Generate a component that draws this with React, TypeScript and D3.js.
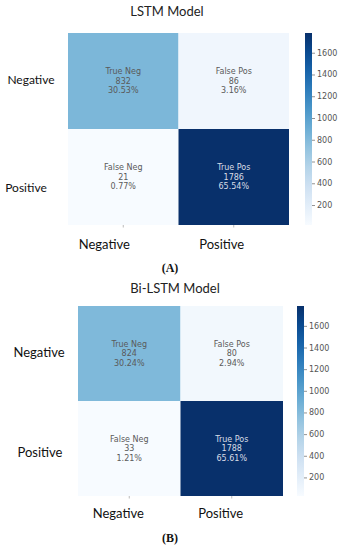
import React from "react";
import * as d3 from "d3";

// confusion matrix data, row-major: [TN, FP, FN, TP]
const classLabels = ["Negative", "Positive"];
const cellNames = ["True Neg", "False Pos", "False Neg", "True Pos"];
const lstmCounts = [832, 86, 21, 1786];
const lstmPercents = ["30.53%", "3.16%", "0.77%", "65.54%"];
const bilstmCounts = [824, 80, 33, 1788];
const bilstmPercents = ["30.24%", "2.94%", "1.21%", "65.61%"];
const colorbarTicks = [200, 400, 600, 800, 1000, 1200, 1400, 1600];

const labelFont = "Lato, 'Open Sans', sans-serif";
const annotFont = "'DejaVu Sans', sans-serif";

type PanelProps = {
  title: string;
  caption: string;
  counts: number[];
  percents: string[];
  titleX: number;
  titleY: number;
  x0: number;
  x1: number;
  y0: number;
  y1: number;
  cbX: number;
  rowLabelX: number[];
  rowLabelDy: number[];
  rowLabelSize: number;
  colLabelDx: number[];
  colLabelY: number;
  captionY: number;
  gradId: string;
};

const Panel = (p: PanelProps) => {
  const lo = d3.min(p.counts) as number;
  const hi = d3.max(p.counts) as number;
  const color = d3.scaleSequential(d3.interpolateBlues).domain([lo, hi]);

  const x = d3.scaleBand().domain(classLabels).range([p.x0, p.x1]);
  const y = d3.scaleBand().domain(classLabels).range([p.y0, p.y1]);
  const cb = d3.scaleLinear().domain([lo, hi]).range([p.y1, p.y0]);
  const cbW = 7;

  const cells = p.counts.map((v, i) => ({
    v,
    name: cellNames[i],
    pct: p.percents[i],
    row: classLabels[Math.floor(i / 2)],
    col: classLabels[i % 2],
  }));

  const stops = d3.range(0, 1.0001, 0.1);

  return (
    <g>
      <defs>
        <linearGradient id={p.gradId} x1="0" y1="1" x2="0" y2="0">
          {stops.map((t) => (
            <stop key={t} offset={`${t * 100}%`} stopColor={d3.interpolateBlues(t)} />
          ))}
        </linearGradient>
      </defs>
      <text x={p.titleX} y={p.titleY} textAnchor="middle" fontFamily={labelFont} fontSize={13} fill="#222">
        {p.title}
      </text>

      {cells.map((c) => {
        const cx = (x(c.col) as number) + x.bandwidth() / 2;
        const cy = (y(c.row) as number) + y.bandwidth() / 2;
        const dark = (c.v - lo) / (hi - lo) > 0.6;
        return (
          <g key={c.name}>
            <rect
              x={x(c.col)}
              y={y(c.row)}
              width={x.bandwidth()}
              height={y.bandwidth()}
              fill={color(c.v)}
            />
            <text
              x={cx}
              y={cy}
              textAnchor="middle"
              fontFamily={annotFont}
              fontSize={8}
              fill={dark ? "#d8dce6" : "#5a5a5a"}
            >
              <tspan x={cx} dy={-7}>{c.name}</tspan>
              <tspan x={cx} dy={9.5}>{c.v}</tspan>
              <tspan x={cx} dy={9.5}>{c.pct}</tspan>
            </text>
          </g>
        );
      })}

      {classLabels.map((l) => {
        const cx = (x(l) as number) + x.bandwidth() / 2;
        return (
          <line key={l} x1={cx} x2={cx} y1={p.y1} y2={p.y1 + 2.5} stroke="#bbb" strokeWidth={1} />
        );
      })}

      {classLabels.map((l, i) => (
        <text
          key={"r" + l}
          x={p.rowLabelX[i]}
          y={(y(l) as number) + y.bandwidth() / 2 + p.rowLabelDy[i]}
          textAnchor="middle"
          dominantBaseline="middle"
          fontFamily={labelFont}
          fontSize={p.rowLabelSize}
          fill="#111"
        >
          {l}
        </text>
      ))}

      {classLabels.map((l, i) => (
        <text
          key={"c" + l}
          x={(x(l) as number) + x.bandwidth() / 2 + p.colLabelDx[i]}
          y={p.colLabelY}
          textAnchor="middle"
          dominantBaseline="middle"
          fontFamily={labelFont}
          fontSize={13}
          fill="#111"
        >
          {l}
        </text>
      ))}

      <rect x={p.cbX} y={p.y0} width={cbW} height={p.y1 - p.y0} fill={`url(#${p.gradId})`} />
      {colorbarTicks.map((t) => (
        <g key={t}>
          <line x1={p.cbX + cbW} x2={p.cbX + cbW + 3} y1={cb(t)} y2={cb(t)} stroke="#777" strokeWidth={0.8} />
          <text
            x={p.cbX + cbW + 5}
            y={cb(t)}
            dominantBaseline="middle"
            fontFamily={annotFont}
            fontSize={8}
            fill="#555"
          >
            {t}
          </text>
        </g>
      ))}

      <text
        x={170}
        y={p.captionY}
        textAnchor="middle"
        dominantBaseline="middle"
        fontFamily="'Liberation Serif', serif"
        fontWeight="bold"
        fontSize={12}
        fill="#111"
      >
        {p.caption}
      </text>
    </g>
  );
};

export default function App() {
  return (
    <div style={{ position: "absolute", left: 0, top: 0 }}>
      <svg width={342} height={550} style={{ display: "block", background: "#fff" }}>
        <Panel
          title="LSTM Model"
          caption="(A)"
          counts={lstmCounts}
          percents={lstmPercents}
          titleX={167}
          titleY={16}
          x0={68}
          x1={289}
          y0={33}
          y1={225}
          cbX={305}
          rowLabelX={[31, 26]}
          rowLabelDy={[0, 12]}
          rowLabelSize={12}
          colLabelDx={[-19, -12]}
          colLabelY={246}
          captionY={269}
          gradId="gA"
        />
        <Panel
          title="Bi-LSTM Model"
          caption="(B)"
          counts={bilstmCounts}
          percents={bilstmPercents}
          titleX={175}
          titleY={293}
          x0={78}
          x1={283}
          y0={306}
          y1={496}
          cbX={297}
          rowLabelX={[39, 40]}
          rowLabelDy={[0, 5]}
          rowLabelSize={13}
          colLabelDx={[-11, -11]}
          colLabelY={515}
          captionY={539}
          gradId="gB"
        />
      </svg>
    </div>
  );
}
